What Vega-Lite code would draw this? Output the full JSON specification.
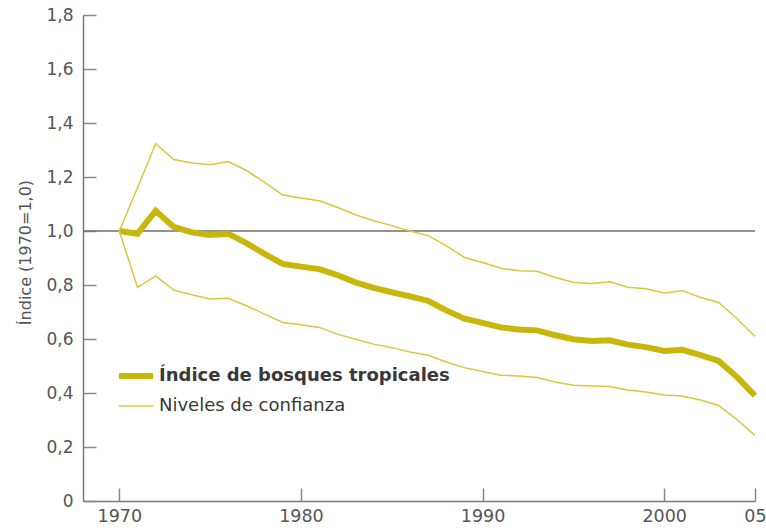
{
  "$schema": "https://vega.github.io/schema/vega-lite/v6.json",
  "autosize": "none",
  "width": 672,
  "height": 486,
  "padding": {"left": 83, "top": 15, "right": 11, "bottom": 29},
  "background": "white",
  "config": {
    "view": {"stroke": null},
    "font": "DejaVu Sans"
  },
  "datasets": {
    "serie": [
      {"anio": 1970, "valor": 1.0, "serie": "Índice de bosques tropicales", "linea": "indice"},
      {"anio": 1971, "valor": 0.99, "serie": "Índice de bosques tropicales", "linea": "indice"},
      {"anio": 1972, "valor": 1.075, "serie": "Índice de bosques tropicales", "linea": "indice"},
      {"anio": 1973, "valor": 1.015, "serie": "Índice de bosques tropicales", "linea": "indice"},
      {"anio": 1974, "valor": 0.995, "serie": "Índice de bosques tropicales", "linea": "indice"},
      {"anio": 1975, "valor": 0.985, "serie": "Índice de bosques tropicales", "linea": "indice"},
      {"anio": 1976, "valor": 0.99, "serie": "Índice de bosques tropicales", "linea": "indice"},
      {"anio": 1977, "valor": 0.955, "serie": "Índice de bosques tropicales", "linea": "indice"},
      {"anio": 1978, "valor": 0.915, "serie": "Índice de bosques tropicales", "linea": "indice"},
      {"anio": 1979, "valor": 0.878, "serie": "Índice de bosques tropicales", "linea": "indice"},
      {"anio": 1980, "valor": 0.868, "serie": "Índice de bosques tropicales", "linea": "indice"},
      {"anio": 1981, "valor": 0.859, "serie": "Índice de bosques tropicales", "linea": "indice"},
      {"anio": 1982, "valor": 0.837, "serie": "Índice de bosques tropicales", "linea": "indice"},
      {"anio": 1983, "valor": 0.81, "serie": "Índice de bosques tropicales", "linea": "indice"},
      {"anio": 1984, "valor": 0.789, "serie": "Índice de bosques tropicales", "linea": "indice"},
      {"anio": 1985, "valor": 0.773, "serie": "Índice de bosques tropicales", "linea": "indice"},
      {"anio": 1986, "valor": 0.758, "serie": "Índice de bosques tropicales", "linea": "indice"},
      {"anio": 1987, "valor": 0.741, "serie": "Índice de bosques tropicales", "linea": "indice"},
      {"anio": 1988, "valor": 0.706, "serie": "Índice de bosques tropicales", "linea": "indice"},
      {"anio": 1989, "valor": 0.675, "serie": "Índice de bosques tropicales", "linea": "indice"},
      {"anio": 1990, "valor": 0.66, "serie": "Índice de bosques tropicales", "linea": "indice"},
      {"anio": 1991, "valor": 0.643, "serie": "Índice de bosques tropicales", "linea": "indice"},
      {"anio": 1992, "valor": 0.635, "serie": "Índice de bosques tropicales", "linea": "indice"},
      {"anio": 1993, "valor": 0.632, "serie": "Índice de bosques tropicales", "linea": "indice"},
      {"anio": 1994, "valor": 0.614, "serie": "Índice de bosques tropicales", "linea": "indice"},
      {"anio": 1995, "valor": 0.599, "serie": "Índice de bosques tropicales", "linea": "indice"},
      {"anio": 1996, "valor": 0.593, "serie": "Índice de bosques tropicales", "linea": "indice"},
      {"anio": 1997, "valor": 0.595, "serie": "Índice de bosques tropicales", "linea": "indice"},
      {"anio": 1998, "valor": 0.579, "serie": "Índice de bosques tropicales", "linea": "indice"},
      {"anio": 1999, "valor": 0.57, "serie": "Índice de bosques tropicales", "linea": "indice"},
      {"anio": 2000, "valor": 0.556, "serie": "Índice de bosques tropicales", "linea": "indice"},
      {"anio": 2001, "valor": 0.56, "serie": "Índice de bosques tropicales", "linea": "indice"},
      {"anio": 2002, "valor": 0.54, "serie": "Índice de bosques tropicales", "linea": "indice"},
      {"anio": 2003, "valor": 0.519, "serie": "Índice de bosques tropicales", "linea": "indice"},
      {"anio": 2004, "valor": 0.46, "serie": "Índice de bosques tropicales", "linea": "indice"},
      {"anio": 2005, "valor": 0.39, "serie": "Índice de bosques tropicales", "linea": "indice"},
      {"anio": 1970, "valor": 1.0, "serie": "Niveles de confianza", "linea": "superior"},
      {"anio": 1971, "valor": 1.16, "serie": "Niveles de confianza", "linea": "superior"},
      {"anio": 1972, "valor": 1.323, "serie": "Niveles de confianza", "linea": "superior"},
      {"anio": 1973, "valor": 1.265, "serie": "Niveles de confianza", "linea": "superior"},
      {"anio": 1974, "valor": 1.252, "serie": "Niveles de confianza", "linea": "superior"},
      {"anio": 1975, "valor": 1.245, "serie": "Niveles de confianza", "linea": "superior"},
      {"anio": 1976, "valor": 1.257, "serie": "Niveles de confianza", "linea": "superior"},
      {"anio": 1977, "valor": 1.224, "serie": "Niveles de confianza", "linea": "superior"},
      {"anio": 1978, "valor": 1.18, "serie": "Niveles de confianza", "linea": "superior"},
      {"anio": 1979, "valor": 1.133, "serie": "Niveles de confianza", "linea": "superior"},
      {"anio": 1980, "valor": 1.122, "serie": "Niveles de confianza", "linea": "superior"},
      {"anio": 1981, "valor": 1.112, "serie": "Niveles de confianza", "linea": "superior"},
      {"anio": 1982, "valor": 1.088, "serie": "Niveles de confianza", "linea": "superior"},
      {"anio": 1983, "valor": 1.06, "serie": "Niveles de confianza", "linea": "superior"},
      {"anio": 1984, "valor": 1.038, "serie": "Niveles de confianza", "linea": "superior"},
      {"anio": 1985, "valor": 1.02, "serie": "Niveles de confianza", "linea": "superior"},
      {"anio": 1986, "valor": 1.0, "serie": "Niveles de confianza", "linea": "superior"},
      {"anio": 1987, "valor": 0.983, "serie": "Niveles de confianza", "linea": "superior"},
      {"anio": 1988, "valor": 0.946, "serie": "Niveles de confianza", "linea": "superior"},
      {"anio": 1989, "valor": 0.902, "serie": "Niveles de confianza", "linea": "superior"},
      {"anio": 1990, "valor": 0.883, "serie": "Niveles de confianza", "linea": "superior"},
      {"anio": 1991, "valor": 0.862, "serie": "Niveles de confianza", "linea": "superior"},
      {"anio": 1992, "valor": 0.853, "serie": "Niveles de confianza", "linea": "superior"},
      {"anio": 1993, "valor": 0.851, "serie": "Niveles de confianza", "linea": "superior"},
      {"anio": 1994, "valor": 0.828, "serie": "Niveles de confianza", "linea": "superior"},
      {"anio": 1995, "valor": 0.81, "serie": "Niveles de confianza", "linea": "superior"},
      {"anio": 1996, "valor": 0.806, "serie": "Niveles de confianza", "linea": "superior"},
      {"anio": 1997, "valor": 0.812, "serie": "Niveles de confianza", "linea": "superior"},
      {"anio": 1998, "valor": 0.792, "serie": "Niveles de confianza", "linea": "superior"},
      {"anio": 1999, "valor": 0.786, "serie": "Niveles de confianza", "linea": "superior"},
      {"anio": 2000, "valor": 0.77, "serie": "Niveles de confianza", "linea": "superior"},
      {"anio": 2001, "valor": 0.779, "serie": "Niveles de confianza", "linea": "superior"},
      {"anio": 2002, "valor": 0.754, "serie": "Niveles de confianza", "linea": "superior"},
      {"anio": 2003, "valor": 0.735, "serie": "Niveles de confianza", "linea": "superior"},
      {"anio": 2004, "valor": 0.676, "serie": "Niveles de confianza", "linea": "superior"},
      {"anio": 2005, "valor": 0.609, "serie": "Niveles de confianza", "linea": "superior"},
      {"anio": 1970, "valor": 1.0, "serie": "Niveles de confianza", "linea": "inferior"},
      {"anio": 1971, "valor": 0.791, "serie": "Niveles de confianza", "linea": "inferior"},
      {"anio": 1972, "valor": 0.834, "serie": "Niveles de confianza", "linea": "inferior"},
      {"anio": 1973, "valor": 0.781, "serie": "Niveles de confianza", "linea": "inferior"},
      {"anio": 1974, "valor": 0.764, "serie": "Niveles de confianza", "linea": "inferior"},
      {"anio": 1975, "valor": 0.748, "serie": "Niveles de confianza", "linea": "inferior"},
      {"anio": 1976, "valor": 0.751, "serie": "Niveles de confianza", "linea": "inferior"},
      {"anio": 1977, "valor": 0.723, "serie": "Niveles de confianza", "linea": "inferior"},
      {"anio": 1978, "valor": 0.692, "serie": "Niveles de confianza", "linea": "inferior"},
      {"anio": 1979, "valor": 0.661, "serie": "Niveles de confianza", "linea": "inferior"},
      {"anio": 1980, "valor": 0.653, "serie": "Niveles de confianza", "linea": "inferior"},
      {"anio": 1981, "valor": 0.643, "serie": "Niveles de confianza", "linea": "inferior"},
      {"anio": 1982, "valor": 0.618, "serie": "Niveles de confianza", "linea": "inferior"},
      {"anio": 1983, "valor": 0.599, "serie": "Niveles de confianza", "linea": "inferior"},
      {"anio": 1984, "valor": 0.581, "serie": "Niveles de confianza", "linea": "inferior"},
      {"anio": 1985, "valor": 0.568, "serie": "Niveles de confianza", "linea": "inferior"},
      {"anio": 1986, "valor": 0.552, "serie": "Niveles de confianza", "linea": "inferior"},
      {"anio": 1987, "valor": 0.54, "serie": "Niveles de confianza", "linea": "inferior"},
      {"anio": 1988, "valor": 0.515, "serie": "Niveles de confianza", "linea": "inferior"},
      {"anio": 1989, "valor": 0.494, "serie": "Niveles de confianza", "linea": "inferior"},
      {"anio": 1990, "valor": 0.48, "serie": "Niveles de confianza", "linea": "inferior"},
      {"anio": 1991, "valor": 0.466, "serie": "Niveles de confianza", "linea": "inferior"},
      {"anio": 1992, "valor": 0.463, "serie": "Niveles de confianza", "linea": "inferior"},
      {"anio": 1993, "valor": 0.457, "serie": "Niveles de confianza", "linea": "inferior"},
      {"anio": 1994, "valor": 0.441, "serie": "Niveles de confianza", "linea": "inferior"},
      {"anio": 1995, "valor": 0.429, "serie": "Niveles de confianza", "linea": "inferior"},
      {"anio": 1996, "valor": 0.426, "serie": "Niveles de confianza", "linea": "inferior"},
      {"anio": 1997, "valor": 0.424, "serie": "Niveles de confianza", "linea": "inferior"},
      {"anio": 1998, "valor": 0.411, "serie": "Niveles de confianza", "linea": "inferior"},
      {"anio": 1999, "valor": 0.404, "serie": "Niveles de confianza", "linea": "inferior"},
      {"anio": 2000, "valor": 0.393, "serie": "Niveles de confianza", "linea": "inferior"},
      {"anio": 2001, "valor": 0.389, "serie": "Niveles de confianza", "linea": "inferior"},
      {"anio": 2002, "valor": 0.374, "serie": "Niveles de confianza", "linea": "inferior"},
      {"anio": 2003, "valor": 0.354, "serie": "Niveles de confianza", "linea": "inferior"},
      {"anio": 2004, "valor": 0.302, "serie": "Niveles de confianza", "linea": "inferior"},
      {"anio": 2005, "valor": 0.243, "serie": "Niveles de confianza", "linea": "inferior"}
    ],
    "referencia": [{"ref": 1.0}]
  },
  "layer": [
    {
      "data": {"name": "referencia"},
      "mark": {"type": "rule", "color": "#6f6f6f", "strokeWidth": 1.5},
      "encoding": {
        "y": {"field": "ref", "type": "quantitative", "scale": {"domain": [0, 1.8]}}
      }
    },
    {
      "data": {"name": "serie"},
      "mark": {"type": "line", "strokeJoin": "miter", "strokeCap": "butt"},
      "encoding": {
        "x": {
          "field": "anio", "type": "quantitative",
          "scale": {"domain": [1968, 2005], "nice": false, "zero": false},
          "axis": {
            "title": null,
            "values": [1970, 1980, 1990, 2000, 2005],
            "labelExpr": "datum.value == 2005 ? '05' : '' + datum.value",
            "grid": false,
            "domainColor": "#777777",
            "domainWidth": 1.5,
            "tickColor": "#888888",
            "tickWidth": 1.5,
            "tickSize": -13,
            "labelPadding": 19,
            "labelFontSize": 17.5,
            "labelColor": "#555555",
            "labelFont": "DejaVu Sans",
            "labelFlush": false,
            "labelOverlap": false
          }
        },
        "y": {
          "field": "valor", "type": "quantitative",
          "scale": {"domain": [0, 1.8], "nice": false},
          "axis": {
            "title": "Índice (1970=1,0)",
            "titleFont": "DejaVu Sans",
            "titleFontSize": 16,
            "titleFontWeight": "normal",
            "titleColor": "#555555",
            "titleX": -50,
            "titleY": 237,
            "values": [0, 0.2, 0.4, 0.6, 0.8, 1.0, 1.2, 1.4, 1.6, 1.8],
            "labelExpr": "datum.value == 0 ? '0' : replace(format(datum.value, '.1f'), '.', ',')",
            "grid": false,
            "domainColor": "#777777",
            "domainWidth": 1.5,
            "tickColor": "#888888",
            "tickWidth": 1.5,
            "tickSize": -13,
            "labelPadding": 23,
            "labelFontSize": 17,
            "labelColor": "#555555",
            "labelFont": "DejaVu Sans",
            "labelFlush": false,
            "labelOverlap": false
          }
        },
        "color": {
          "field": "serie", "type": "nominal",
          "scale": {"domain": ["Índice de bosques tropicales", "Niveles de confianza"], "range": ["#c9b60a", "#d8c83c"]},
          "legend": {
            "title": null,
            "orient": "none",
            "legendX": 33,
            "legendY": 341,
            "symbolType": "stroke",
            "symbolSize": 1156,
            "labelFont": "DejaVu Sans",
            "labelFontSize": 18,
            "labelColor": "#383838",
            "labelOffset": 3,
            "rowPadding": -2,
            "labelLimit": 500,
            "encode": {
              "labels": {"update": {"fontWeight": {"signal": "datum.label == 'Índice de bosques tropicales' ? 'bold' : 'normal'"}}}
            }
          }
        },
        "strokeWidth": {
          "field": "serie", "type": "nominal",
          "scale": {"domain": ["Índice de bosques tropicales", "Niveles de confianza"], "range": [6, 1.5]},
          "legend": null
        },
        "detail": {"field": "linea", "type": "nominal"},
        "order": {"field": "anio", "type": "quantitative"}
      }
    }
  ]
}
